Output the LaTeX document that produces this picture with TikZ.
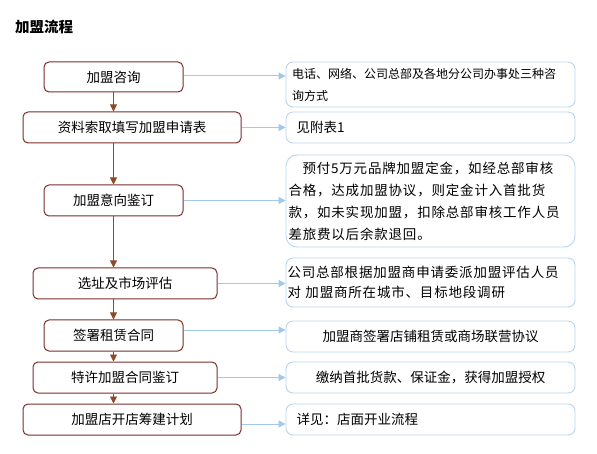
\documentclass[tikz,border=0pt]{standalone}
\usepackage{fontspec}
\setmainfont{Noto Sans CJK SC}
\newfontfamily\cjk{Noto Sans CJK SC}
\newfontfamily\cjkwide[LetterSpace=6]{Noto Sans CJK SC}
\newfontfamily\cjkmid[LetterSpace=6]{Noto Sans CJK SC}
\usetikzlibrary{arrows.meta}
\definecolor{boxred}{HTML}{7A2E2A}
\definecolor{arrbrown}{HTML}{8E4A26}
\definecolor{lineblue}{HTML}{A3C9EA}
\definecolor{boxblue}{HTML}{B9D5EF}
\tikzset{
  lbox/.style={draw=boxred, line width=1pt, rounded corners=5pt, fill=white,
    minimum height=31pt, inner sep=0pt, font=\cjk\fontsize{13.5}{16}\selectfont},
  rbox/.style={draw=boxblue, line width=0.9pt, rounded corners=7pt, fill=white,
    minimum width=289pt, inner sep=0pt, font=\cjk\fontsize{13.5}{16}\selectfont},
  brownarrow/.style={draw=arrbrown, line width=0.9pt, -{Triangle[length=7pt,width=7pt]}},
  bluearrow/.style={draw=lineblue, line width=1pt, -{Triangle[length=7pt,width=7pt]}},
}
\begin{document}
\begin{tikzpicture}[x=1pt,y=-1pt]
\useasboundingbox[fill=white] (0,0) rectangle (597,454);
\node[anchor=west, font=\cjk\bfseries\fontsize{14.5}{16}\selectfont, inner sep=0pt] (title) at (15,27) {加盟流程};

% left boxes
\node[lbox, minimum width=139pt, minimum height=30pt] (L1) at (113.5,77) {加盟咨询};
\node[lbox, minimum width=218pt] (L2) at (132,127.5) {资料索取填写加盟申请表};
\node[lbox, minimum width=139pt] (L3) at (113.5,200.5) {加盟意向鉴订};
\node[lbox, minimum width=184pt] (L4) at (125,283.5) {选址及市场评估};
\node[lbox, minimum width=139pt] (L5) at (113.5,335.5) {签署租赁合同};
\node[lbox, minimum width=184pt] (L6) at (125,377.5) {特许加盟合同鉴订};
\node[lbox, minimum width=218pt] (L7) at (132,419.5) {加盟店开店筹建计划};

% right boxes
\node[rbox, minimum height=45pt, text width=277pt, align=left,
      font=\cjk\fontsize{12}{22}\selectfont] (R1) at (430.5,84.5)
  {电话、网络、公司总部及各地分公司办事处三种咨\\询方式};
\node[rbox, minimum height=31pt, text width=268pt, align=left] (R2) at (430.5,127.5) {见附表1};
\node[rbox, rounded corners=11pt, minimum height=92pt, text width=284pt, align=left,
      font=\cjkwide\fontsize{13.5}{22}\selectfont] (R3) at (430.5,201)
  {\hspace*{14pt}预付5万元品牌加盟定金，如经总部审核\\合格，达成加盟协议，则定金计入首批货\\款，如未实现加盟，扣除总部审核工作人员\\差旅费以后余款退回。};
\node[rbox, minimum height=49pt, text width=286pt, align=left,
      font=\cjkmid\fontsize{13.5}{20}\selectfont] (R4) at (430.5,282.5)
  {公司总部根据加盟商申请委派加盟评估人员\\对\ 加盟商所在城市、目标地段调研};
\node[rbox, minimum height=31pt] (R5) at (430.5,336.5) {加盟商签署店铺租赁或商场联营协议};
\node[rbox, minimum height=31pt] (R6) at (430.5,377.5) {缴纳首批货款、保证金，获得加盟授权};
\node[rbox, minimum height=31pt, text width=268pt, align=left] (R7) at (430.5,419.5) {详见：店面开业流程};

% vertical arrows
\draw[brownarrow] (L1.south) -- (L1.south |- L2.north);
\draw[brownarrow] (L1.south |- L2.south) -- (L3.north);
\draw[brownarrow] (L3.south) -- (L3.south |- L4.north);
\draw[brownarrow] (L3.south |- L4.south) -- (L5.north);
\draw[brownarrow] (L5.south) -- (L5.south |- L6.north);
\draw[brownarrow] (L5.south |- L6.south) -- (L5.south |- L7.north);

% horizontal arrows
\draw[bluearrow] ([yshift=1pt]L1.east) -- ([yshift=1pt]L1.east -| R1.west);
\draw[bluearrow] (L2.east) -- (L2.east -| R2.west);
\draw[bluearrow] (L3.east) -- (L3.east -| R3.west);
\draw[bluearrow] (L4.east) -- (L4.east -| R4.west);
\draw[bluearrow] ([yshift=5.5pt]L5.east) -- ([yshift=5.5pt]L5.east -| R5.west);
\draw[bluearrow] (L6.east) -- (L6.east -| R6.west);
\draw[bluearrow] ([yshift=-4.5pt]L7.east) -- ([yshift=-4.5pt]L7.east -| R7.west);
\end{tikzpicture}
\end{document}
